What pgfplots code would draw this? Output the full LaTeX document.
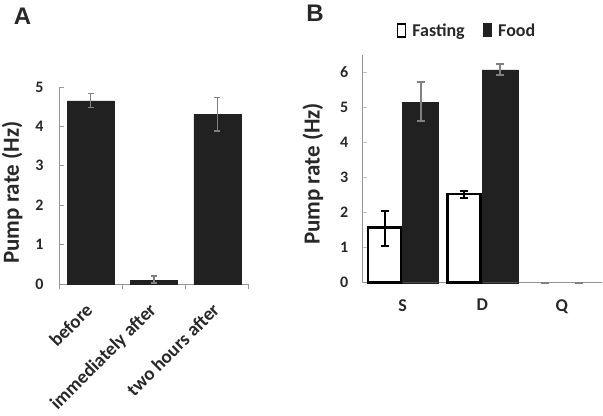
\documentclass[border=0pt]{standalone}
\usepackage{pgfplots}
\pgfplotsset{compat=1.18}
\usepackage{fontspec}
\setmainfont{Carlito}
\newfontfamily\arialfont{Liberation Sans}
\definecolor{barblack}{RGB}{33,33,33}
\definecolor{axisgray}{RGB}{150,150,150}
\definecolor{errgray}{RGB}{128,128,128}
\definecolor{txt}{RGB}{40,40,40}
\begin{document}
\begin{tikzpicture}
\path[use as bounding box] (0,0) rectangle (603bp,-416bp);
\node[txt, font=\arialfont\bfseries\fontsize{24bp}{26bp}\selectfont] at (22.5bp,-16bp) {A};
\node[txt, font=\arialfont\bfseries\fontsize{24bp}{26bp}\selectfont] at (315bp,-13bp) {B};

% Panel A
\begin{axis}[
  at={(59bp,-284bp)}, anchor=south west, scale only axis,
  width=190bp, height=197bp,
  xmin=-0.5, xmax=2.5, ymin=0, ymax=5,
  axis lines*=left, axis line style={axisgray, line width=1bp},
  tick align=inside, major tick length=5bp,
  ytick={0,1,2,3,4,5},
  ytick style={axisgray, line width=1bp},
  xtick={-0.5,0.5,1.5,2.5}, xticklabels={},
  xtick style={axisgray, line width=1bp, yshift=-5bp},
  extra x ticks={0,1,2},
  extra x tick labels={before, immediately after, two hours after},
  extra x tick style={tick style={draw=none},
    xticklabel style={rotate=45, anchor=north east, inner sep=0pt, xshift=-17bp, yshift=-8bp,
      font=\bfseries\fontsize{19bp}{21bp}\selectfont, txt}},
  /pgf/number format/assume math mode=true,
  yticklabel style={font=\bfseries\fontsize{16bp}{18bp}\selectfont, txt, xshift=-12bp},
  ylabel={Pump rate (Hz)},
  ylabel style={font=\bfseries\fontsize{23bp}{25bp}\selectfont, txt,
    at={(axis description cs:-0.247,0.464)}, anchor=center},
]
\addplot[ybar, bar width=47bp, fill=barblack, draw=barblack,
  error bars/.cd, y dir=both, y explicit,
  error bar style={errgray, line width=1.5bp},
  error mark options={rotate=90, errgray, mark size=3bp, line width=1.5bp}]
coordinates {
  (0,4.65) += (0,0.19) -= (0,0.17)
  (1,0.10) += (0,0.10) -= (0,0.07)
  (2,4.30) += (0,0.43) -= (0,0.42)
};
\end{axis}

% Panel B
\begin{axis}[
  at={(362.7bp,-282.7bp)}, anchor=south west, scale only axis,
  width=239bp, height=228bp,
  xmin=-0.5, xmax=2.5, ymin=0, ymax=6.5,
  axis lines*=left, axis line style={axisgray, line width=1bp},
  tick align=inside, major tick length=4bp,
  ytick={0,1,2,3,4,5,6},
  ytick style={axisgray!60, line width=0.8bp},
  xtick={0,1,2}, xticklabels={S,D,Q},
  xtick style={draw=none},
  xticklabel style={font=\bfseries\fontsize{18bp}{20bp}\selectfont, txt, yshift=-13bp},
  /pgf/number format/assume math mode=true,
  yticklabel style={font=\bfseries\fontsize{16bp}{18bp}\selectfont, txt, xshift=-11bp},
  ylabel={Pump rate (Hz)},
  ylabel style={font=\bfseries\fontsize{23bp}{25bp}\selectfont, txt,
    at={(axis description cs:-0.208,0.477)}, anchor=center},
  legend columns=2,
  legend style={draw=none, fill=none, at={(axis description cs:0.436,1.104)}, anchor=center,
    font=\bfseries\fontsize{18bp}{20bp}\selectfont, text=txt,
    /tikz/every even column/.append style={column sep=16bp}},
  clip=false,
]
\addplot[ybar, bar width=33bp, bar shift=-18bp, fill=white, draw=black, line width=2.5bp,
  legend image code/.code={\draw[black, fill=white, line width=1.6bp] (0bp,-6bp) rectangle (8bp,7bp); \path[draw=none, fill=none] (0bp,0bp) -- (13bp,0bp);},
  error bars/.cd, y dir=both, y explicit,
  error bar style={black, line width=2bp, xshift=-18bp},
  error mark options={rotate=90, black, mark size=4bp, line width=2bp}]
coordinates {
  (0,1.57) += (0,0.48) -= (0,0.52)
  (1,2.53) += (0,0.08) -= (0,0.12)
};
\addlegendentry{Fasting}
\addplot[ybar, bar width=36bp, bar shift=18bp, fill=barblack, draw=barblack,
  legend image code/.code={\draw[barblack, fill=barblack, line width=1bp] (0bp,-6bp) rectangle (8bp,7bp); \path[draw=none, fill=none] (0bp,0bp) -- (13bp,0bp);},
  error bars/.cd, y dir=both, y explicit,
  error bar style={errgray, line width=2bp, xshift=18bp},
  error mark options={rotate=90, errgray, mark size=4bp, line width=2bp}]
coordinates {
  (0,5.14) += (0,0.59) -= (0,0.53)
  (1,6.07) += (0,0.16) -= (0,0.16)
};
\addlegendentry{Food}
% Q: both groups zero, only the (zero-size) error caps are visible
\addplot[forget plot, only marks, mark=-, mark size=4bp, mark options={draw=errgray, line width=1.8bp}]
coordinates {(1.787,0) (2.213,0)};
\end{axis}
\end{tikzpicture}
\end{document}
